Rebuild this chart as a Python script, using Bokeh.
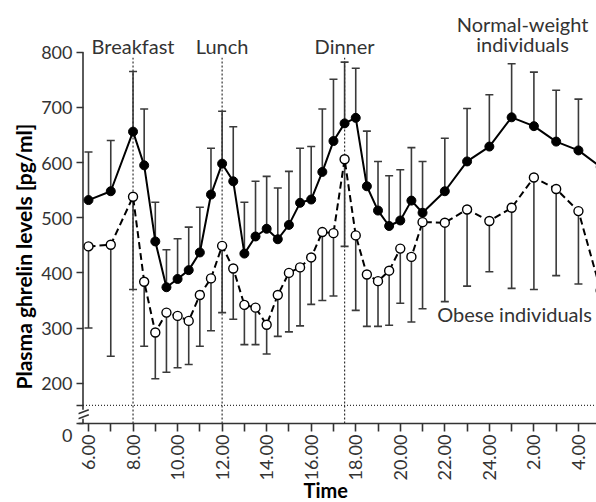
from math import pi
from bokeh.plotting import figure
from bokeh.models import ColumnDataSource, FixedTicker, Whisker, TeeHead, Title
from bokeh.core.properties import value
from bokeh.embed import file_html
from bokeh.resources import INLINE

# ---------------- data ----------------
time_h = [6, 7, 8, 8.5, 9, 9.5, 10, 10.5, 11, 11.5, 12, 12.5, 13, 13.5, 14, 14.5,
          15, 15.5, 16, 16.5, 17, 17.5, 18, 18.5, 19, 19.5, 20, 20.5, 21,
          22, 23, 24, 25, 26, 27, 28, 29]
normal_mean = [532, 548, 656, 595, 457, 374, 389, 405, 437, 542, 598, 566, 435, 466, 480, 461,
               487, 527, 533, 583, 639, 671, 681, 557, 513, 485, 495, 531, 509,
               548, 602, 629, 682, 666, 638, 622, 592]
normal_upper = [619, 640, 765, 697, 528, 442, 462, 483, 519, 626, 693, 665, 528, 566, 575, 554,
                584, 626, 629, 697, 751, 782, 771, 657, 602, 576, 587, 627, 602,
                644, 698, 723, 779, 764, 731, 715, 690]
obese_mean = [448, 451, 538, 384, 292, 328, 322, 313, 360, 390, 449, 408, 342, 337, 306, 360,
              400, 410, 428, 474, 472, 606, 468, 397, 385, 404, 444, 429, 492,
              491, 515, 494, 518, 573, 552, 512, 368]
obese_lower = [300, 249, 370, 267, 208, 220, 228, 234, 267, 295, 328, 316, 270, 270, 253, 285,
               293, 304, 343, 350, 358, 448, 332, 303, 303, 305, 345, 311, 335,
               348, 376, 402, 372, 370, 395, 380, 250]

tick_hours = list(range(6, 29))
tick_labels = ["6.00", "", "8.00", "", "10.00", "", "12.00", "", "14.00", "", "16.00", "",
               "18.00", "", "20.00", "", "22.00", "", "24.00", "", "2.00", "", "4.00"]
y_ticks = [160, 200, 300, 400, 500, 600, 700, 800]
y_tick_labels = ["", "200", "300", "400", "500", "600", "700", "800"]
origin_label = "0"
meal_names = ["Breakfast", "Lunch", "Dinner"]
meal_times = [8, 12, 17.5]
break_level = 160
x_title = "Time"
y_title = "Plasma ghrelin levels [pg/ml]"

# ---------------- layout constants ----------------
X0, X1 = 5.551, 28.811
Y0, Y1 = 127.0, 872.0
AXIS_X = 5.753
FONT = "Lato"
AX = "#333333"

p = figure(width=596, height=502, x_range=(X0, X1), y_range=(Y0, Y1),
           output_backend="svg", toolbar_location=None,
           min_border_left=78, min_border_right=0, min_border_top=12, min_border_bottom=79)
p.outline_line_color = None
p.grid.visible = False

# x axis
xa = p.xaxis[0]
xa.ticker = FixedTicker(ticks=tick_hours)
xa.major_label_overrides = {h: l for h, l in zip(tick_hours, tick_labels)}
xa.minor_tick_line_color = None
xa.major_tick_in = 0
xa.major_tick_out = 8
xa.major_label_orientation = pi / 2
xa.major_label_standoff = 3
xa.axis_line_color = AX
xa.axis_line_width = 1.6
xa.major_tick_line_color = AX
xa.major_tick_line_width = 1.6
xa.major_label_text_font = FONT
xa.major_label_text_font_size = "18px"
xa.major_label_text_color = AX

p.add_layout(Title(text=x_title, align="left", offset=225, standoff=-12, vertical_align="top",
                   text_font=FONT, text_font_size="20px", text_font_style="bold",
                   text_color="black"), "below")

# y axis
ya = p.yaxis[0]
ya.ticker = FixedTicker(ticks=[Y0] + y_ticks)
overrides = {t: l for t, l in zip(y_ticks, y_tick_labels)}
overrides[Y0] = "\n" + origin_label
ya.major_label_overrides = overrides
ya.major_label_text_line_height = 1.0
ya.minor_tick_line_color = None
ya.axis_line_color = None
ya.major_tick_in = 5
ya.major_tick_out = 2
ya.major_label_standoff = 4
ya.major_tick_line_color = AX
ya.major_tick_line_width = 1.6
ya.major_label_text_font = FONT
ya.major_label_text_font_size = "18px"
ya.major_label_text_color = AX

p.add_layout(Title(text=y_title, align="left", offset=34, standoff=6,
                   text_font=FONT, text_font_size="21px", text_font_style="bold",
                   text_color="black"), "left")

# hand-drawn y axis line with break
p.segment(x0=[AXIS_X, AXIS_X], y0=[800, 135.5], x1=[AXIS_X, AXIS_X], y1=[151.8, Y0],
          line_color=AX, line_width=1.6)
p.segment(x0=[5.537, 5.537], y0=[144.5, 135.5], x1=[6.013, 6.013], y1=[151.8, 142.7],
          line_color=AX, line_width=1.6)

# meal lines and baseline dotted line
p.segment(x0=meal_times, y0=[Y0] * 3, x1=meal_times, y1=[790] * 3,
          line_color=AX, line_width=1.2, line_dash="2 2")
p.segment(x0=[AXIS_X], y0=[break_level], x1=[X1], y1=[break_level],
          line_color=AX, line_width=1.2, line_dash="1 2")

src = ColumnDataSource(dict(t=time_h, nm=normal_mean, nu=normal_upper,
                            om=obese_mean, ol=obese_lower))

ERR = "#3a3a3a"
p.add_layout(Whisker(source=src, base="t", lower="nm", upper="nu", dimension="height",
                     line_color=ERR, line_width=1.6, lower_head=None,
                     upper_head=TeeHead(size=8, line_color=ERR, line_width=1.6),
                     level="underlay"))
p.add_layout(Whisker(source=src, base="t", lower="ol", upper="om", dimension="height",
                     line_color=ERR, line_width=1.6, upper_head=None,
                     lower_head=TeeHead(size=8, line_color=ERR, line_width=1.6),
                     level="underlay"))

p.line("t", "om", source=src, line_color="black", line_width=2, line_dash="7 4")
p.line("t", "nm", source=src, line_color="black", line_width=2)
p.scatter("t", "nm", source=src, size=9, fill_color="black", line_color="black")
p.scatter("t", "om", source=src, size=9, fill_color="white", line_color="black", line_width=1.4)

# annotations
p.text(x=meal_times, y=[811] * 3, text=meal_names, text_font=value(FONT),
       text_font_size="20px", text_align="center", text_baseline="alphabetic", text_color=AX)
p.text(x=[25.49, 25.49], y=[850.4, 814], text=["Normal-weight", "individuals"],
       text_font=value(FONT), text_font_size="20px", text_align="center",
       text_baseline="alphabetic", text_color=AX)
p.text(x=[25.13], y=[325.8], text=["Obese individuals"], text_font=value(FONT),
       text_font_size="20px", text_align="center", text_baseline="alphabetic", text_color=AX)

open("out.html", "w").write(file_html(p, INLINE))
